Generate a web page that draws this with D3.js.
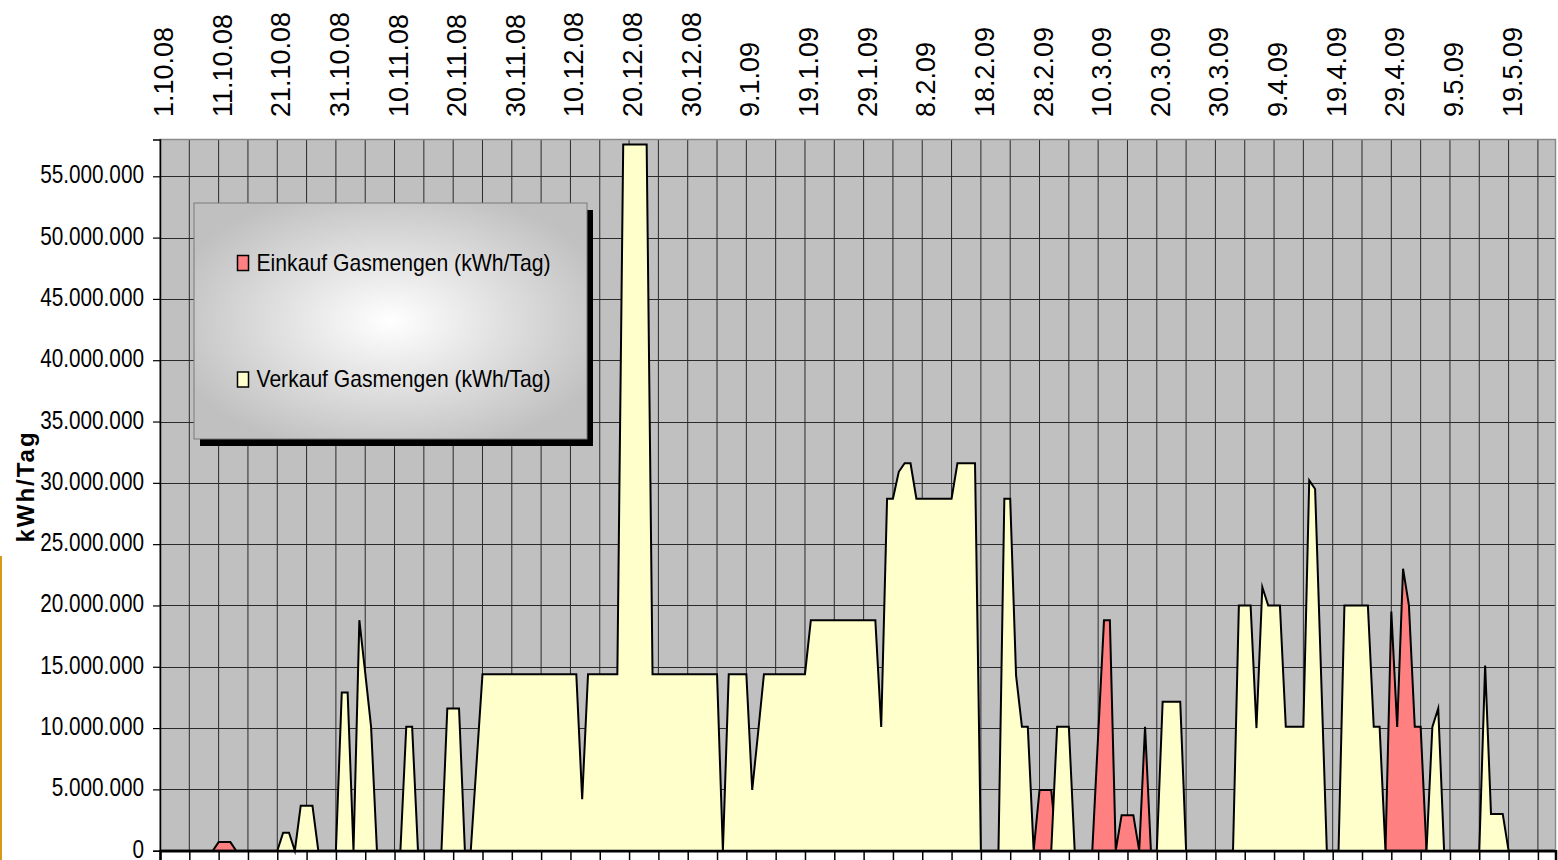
<!DOCTYPE html>
<html>
<head>
<meta charset="utf-8">
<script src="https://cdn.jsdelivr.net/npm/d3@7"></script>
<style>
  body { margin: 0; background: #fff; }
  svg { display: block; }
</style>
</head>
<body>
<script>
// Einkauf (purchase) - red series, turning points of the daily values
var einkaufDates = [
  "2008-10-01", "2008-10-10", "2008-10-11", "2008-10-13", "2008-10-14",
  "2009-02-27", "2009-02-28", "2009-03-02", "2009-03-03",
  "2009-03-09", "2009-03-10", "2009-03-11", "2009-03-12", "2009-03-13",
  "2009-03-14", "2009-03-16", "2009-03-17", "2009-03-18", "2009-03-19",
  "2009-04-28", "2009-04-29", "2009-04-30", "2009-05-01", "2009-05-02",
  "2009-05-03", "2009-05-04", "2009-05-05", "2009-05-27"
];
var einkaufValues = [
  0, 0, 700000, 700000, 0,
  0, 4950000, 4950000, 0,
  0, 9400000, 18800000, 18800000, 0,
  2900000, 2900000, 0, 10100000, 0,
  0, 19500000, 10100000, 23000000, 20000000,
  10100000, 10100000, 0, 0
];

// Verkauf (sale) - yellow series
var verkaufDates = [
  "2008-10-01", "2008-10-21", "2008-10-22", "2008-10-23", "2008-10-24",
  "2008-10-25", "2008-10-27", "2008-10-28", "2008-10-31", "2008-11-01",
  "2008-11-02", "2008-11-03", "2008-11-04", "2008-11-05", "2008-11-06",
  "2008-11-07", "2008-11-11", "2008-11-12", "2008-11-13", "2008-11-14",
  "2008-11-18", "2008-11-19", "2008-11-21", "2008-11-22", "2008-11-23",
  "2008-11-24", "2008-11-25", "2008-12-11", "2008-12-12", "2008-12-13",
  "2008-12-18", "2008-12-19", "2008-12-23", "2008-12-24", "2009-01-04",
  "2009-01-05", "2009-01-06", "2009-01-09", "2009-01-10", "2009-01-11",
  "2009-01-12", "2009-01-19", "2009-01-20", "2009-01-31", "2009-02-01",
  "2009-02-02", "2009-02-03", "2009-02-04", "2009-02-05", "2009-02-06",
  "2009-02-07", "2009-02-13", "2009-02-14", "2009-02-17", "2009-02-18",
  "2009-02-21", "2009-02-22", "2009-02-23", "2009-02-24", "2009-02-25",
  "2009-02-26", "2009-02-27", "2009-03-02", "2009-03-03", "2009-03-05",
  "2009-03-06", "2009-03-20", "2009-03-21", "2009-03-24", "2009-03-25",
  "2009-04-02", "2009-04-03", "2009-04-05", "2009-04-06", "2009-04-07",
  "2009-04-08", "2009-04-10", "2009-04-11", "2009-04-14", "2009-04-15",
  "2009-04-16", "2009-04-17", "2009-04-18", "2009-04-20", "2009-04-21",
  "2009-04-25", "2009-04-26", "2009-04-27", "2009-04-28", "2009-05-05",
  "2009-05-06", "2009-05-07", "2009-05-08", "2009-05-14", "2009-05-15",
  "2009-05-16", "2009-05-18", "2009-05-19", "2009-05-27"
];
var verkaufValues = [
  0, 0, 1470000, 1470000, 0,
  3670000, 3670000, 0, 0, 12900000,
  12900000, 0, 18800000, 14500000, 10100000,
  0, 0, 10100000, 10100000, 0,
  0, 11600000, 11600000, 0, 0,
  7200000, 14400000, 14400000, 4200000, 14400000,
  14400000, 57600000, 57600000, 14400000, 14400000,
  0, 14400000, 14400000, 4950000, 9600000,
  14400000, 14400000, 18800000, 18800000, 10100000,
  28700000, 28700000, 30900000, 31600000, 31600000,
  28700000, 28700000, 31600000, 31600000, 0,
  0, 28700000, 28700000, 14300000, 10100000,
  10100000, 0, 0, 10100000, 10100000,
  0, 0, 12150000, 12150000, 0,
  0, 20000000, 20000000, 10000000, 21500000,
  20000000, 20000000, 10100000, 10100000, 30200000,
  29500000, 14700000, 0, 0, 20000000,
  20000000, 10100000, 10100000, 0, 0,
  10100000, 11600000, 0, 0, 15100000,
  3000000, 3000000, 0, 0
];

var seriesNames = ["Einkauf Gasmengen (kWh/Tag)", "Verkauf Gasmengen (kWh/Tag)"];
var seriesColors = ["#ff8080", "#ffffcc"];
var yTicks = [0, 5000000, 10000000, 15000000, 20000000, 25000000,
              30000000, 35000000, 40000000, 45000000, 50000000, 55000000];
var axisStart = "2008-10-01", axisEnd = "2009-05-27";
var labelEveryDays = 10, gridEveryDays = 5;
var yTitle = "kWh/Tag";

(function () {
  var W = 1558, H = 860;
  var plotL = 160, plotR = 1555.5, plotT = 139.5, plotB = 850.7;

  var parse = d3.utcParse("%Y-%m-%d");
  var start = parse(axisStart), end = parse(axisEnd);
  var nDays = d3.utcDay.count(start, end);

  var x = d3.scaleUtc().domain([start, end]).range([plotL, plotR]);
  var y = d3.scaleLinear().domain([0, 58000000]).range([plotB, plotT]);

  var de = d3.formatLocale({decimal: ",", thousands: ".", grouping: [3], currency: ["", " €"]});
  var fmtY = de.format(",d");
  var fmtDate = d3.utcFormat("%-d.%-m.%y");

  function makeSeries(dates, values) {
    return dates.map(function (d, i) { return {date: parse(d), value: values[i]}; });
  }
  var einkauf = makeSeries(einkaufDates, einkaufValues);
  var verkauf = makeSeries(verkaufDates, verkaufValues);

  var svg = d3.select("body").append("svg")
    .attr("width", W).attr("height", H)
    .style("font-family", "'Liberation Sans', Arial, sans-serif");

  var defs = svg.append("defs");
  var grad = defs.append("radialGradient").attr("id", "legendGrad")
    .attr("cx", 0.5).attr("cy", 0.5).attr("r", 0.58);
  grad.append("stop").attr("offset", "0%").attr("stop-color", "#ffffff");
  grad.append("stop").attr("offset", "100%").attr("stop-color", "#c0c0c0");

  svg.append("rect").attr("width", W).attr("height", H).attr("fill", "#fff");

  // plot background
  svg.append("rect")
    .attr("x", plotL).attr("y", plotT)
    .attr("width", plotR - plotL).attr("height", plotB - plotT)
    .attr("fill", "#c0c0c0");

  // grid
  var gridDays = d3.range(gridEveryDays, nDays + 1, gridEveryDays)
    .map(function (d) { return d3.utcDay.offset(start, d); });
  var labelDays = d3.range(0, nDays + 1, labelEveryDays)
    .map(function (d) { return d3.utcDay.offset(start, d); });

  var grid = svg.append("g").attr("stroke", "#2a2a2a").attr("stroke-width", 1);
  grid.selectAll("line.h").data(yTicks.slice(1)).enter().append("line")
    .attr("x1", plotL).attr("x2", plotR)
    .attr("y1", function (d) { return Math.round(y(d)) + 0.5; })
    .attr("y2", function (d) { return Math.round(y(d)) + 0.5; });
  grid.selectAll("line.v").data(gridDays).enter().append("line")
    .attr("x1", function (d) { return x(d); }).attr("x2", function (d) { return x(d); })
    .attr("y1", plotT).attr("y2", plotB);

  // areas: Einkauf behind, Verkauf in front
  var area = d3.area()
    .x(function (d) { return x(d.date); })
    .y0(y(0))
    .y1(function (d) { return y(d.value); });

  [einkauf, verkauf].forEach(function (s, i) {
    svg.append("path").datum(s)
      .attr("d", area)
      .attr("fill", seriesColors[i])
      .attr("stroke", "#000")
      .attr("stroke-width", 2)
      .attr("stroke-linejoin", "miter")
      .attr("stroke-miterlimit", 6);
  });

  // plot border
  svg.append("rect")
    .attr("x", plotL).attr("y", plotT)
    .attr("width", plotR - plotL).attr("height", plotB - plotT)
    .attr("fill", "none").attr("stroke", "#8a8a8a").attr("stroke-width", 1.5);

  // x axis at the bottom (ticks only)
  var xAxis = d3.axisBottom(x).tickValues(gridDays.concat([start])).tickSize(10).tickFormat("");
  var gx = svg.append("g").attr("transform", "translate(0," + plotB + ")").call(xAxis);
  gx.select(".domain").attr("stroke", "#000").attr("stroke-width", 2.5);
  gx.selectAll(".tick line").attr("stroke", "#000").attr("stroke-width", 1.5);

  // date labels along the top
  svg.append("g").selectAll("text").data(labelDays).enter().append("text")
    .attr("transform", function (d) { return "translate(" + (x(d) + 13) + ",117) rotate(-90)"; })
    .attr("font-size", 27)
    .attr("fill", "#000")
    .text(function (d) { return fmtDate(d); });

  // y axis
  var yAxis = d3.axisLeft(y).tickValues(yTicks).tickSize(7).tickFormat("");
  var gy = svg.append("g").attr("transform", "translate(" + plotL + ",0)").call(yAxis);
  gy.select(".domain").attr("stroke", "#000").attr("stroke-width", 1.5);
  gy.selectAll(".tick line").attr("stroke", "#000").attr("stroke-width", 1.2);

  var yLabels = svg.append("g").selectAll("text").data(yTicks).enter().append("text")
    .attr("x", 144)
    .attr("y", function (d) { return y(d) + 7; })
    .attr("text-anchor", "end")
    .attr("font-size", 25)
    .attr("fill", "#000")
    .text(function (d) { return fmtY(d); });
  yLabels.each(function () {
    var w = this.getComputedTextLength();
    d3.select(this).attr("textLength", w * 0.83).attr("lengthAdjust", "spacingAndGlyphs");
  });

  // y axis title
  svg.append("text")
    .attr("transform", "translate(33.5,486.5) rotate(-90)")
    .attr("text-anchor", "middle")
    .attr("font-size", 24)
    .attr("font-weight", "bold")
    .attr("letter-spacing", 2)
    .text(yTitle);

  // small orange edge mark on the left border
  svg.append("rect").attr("x", 0).attr("y", 556).attr("width", 2).attr("height", H - 556)
    .attr("fill", "#d49a1a");

  // legend
  var lg = svg.append("g").attr("transform", "translate(194,203)");
  lg.append("rect").attr("x", 6).attr("y", 7).attr("width", 393).attr("height", 236).attr("fill", "#000");
  lg.append("rect").attr("width", 393).attr("height", 236)
    .attr("fill", "url(#legendGrad)").attr("stroke", "#7a7a7a").attr("stroke-width", 1);

  var items = lg.selectAll("g.item").data(seriesNames).enter().append("g")
    .attr("transform", function (d, i) { return "translate(43," + (i === 0 ? 52.5 : 169) + ")"; });
  items.append("rect")
    .attr("x", 0.5).attr("y", 0).attr("width", 11).attr("height", 15)
    .attr("fill", function (d, i) { return seriesColors[i]; })
    .attr("stroke", "#000").attr("stroke-width", 1.5);
  items.append("text")
    .attr("x", 19.5).attr("y", 15)
    .attr("font-size", 24)
    .attr("textLength", 294).attr("lengthAdjust", "spacingAndGlyphs")
    .text(function (d) { return d; });
})();
</script>
</body>
</html>
